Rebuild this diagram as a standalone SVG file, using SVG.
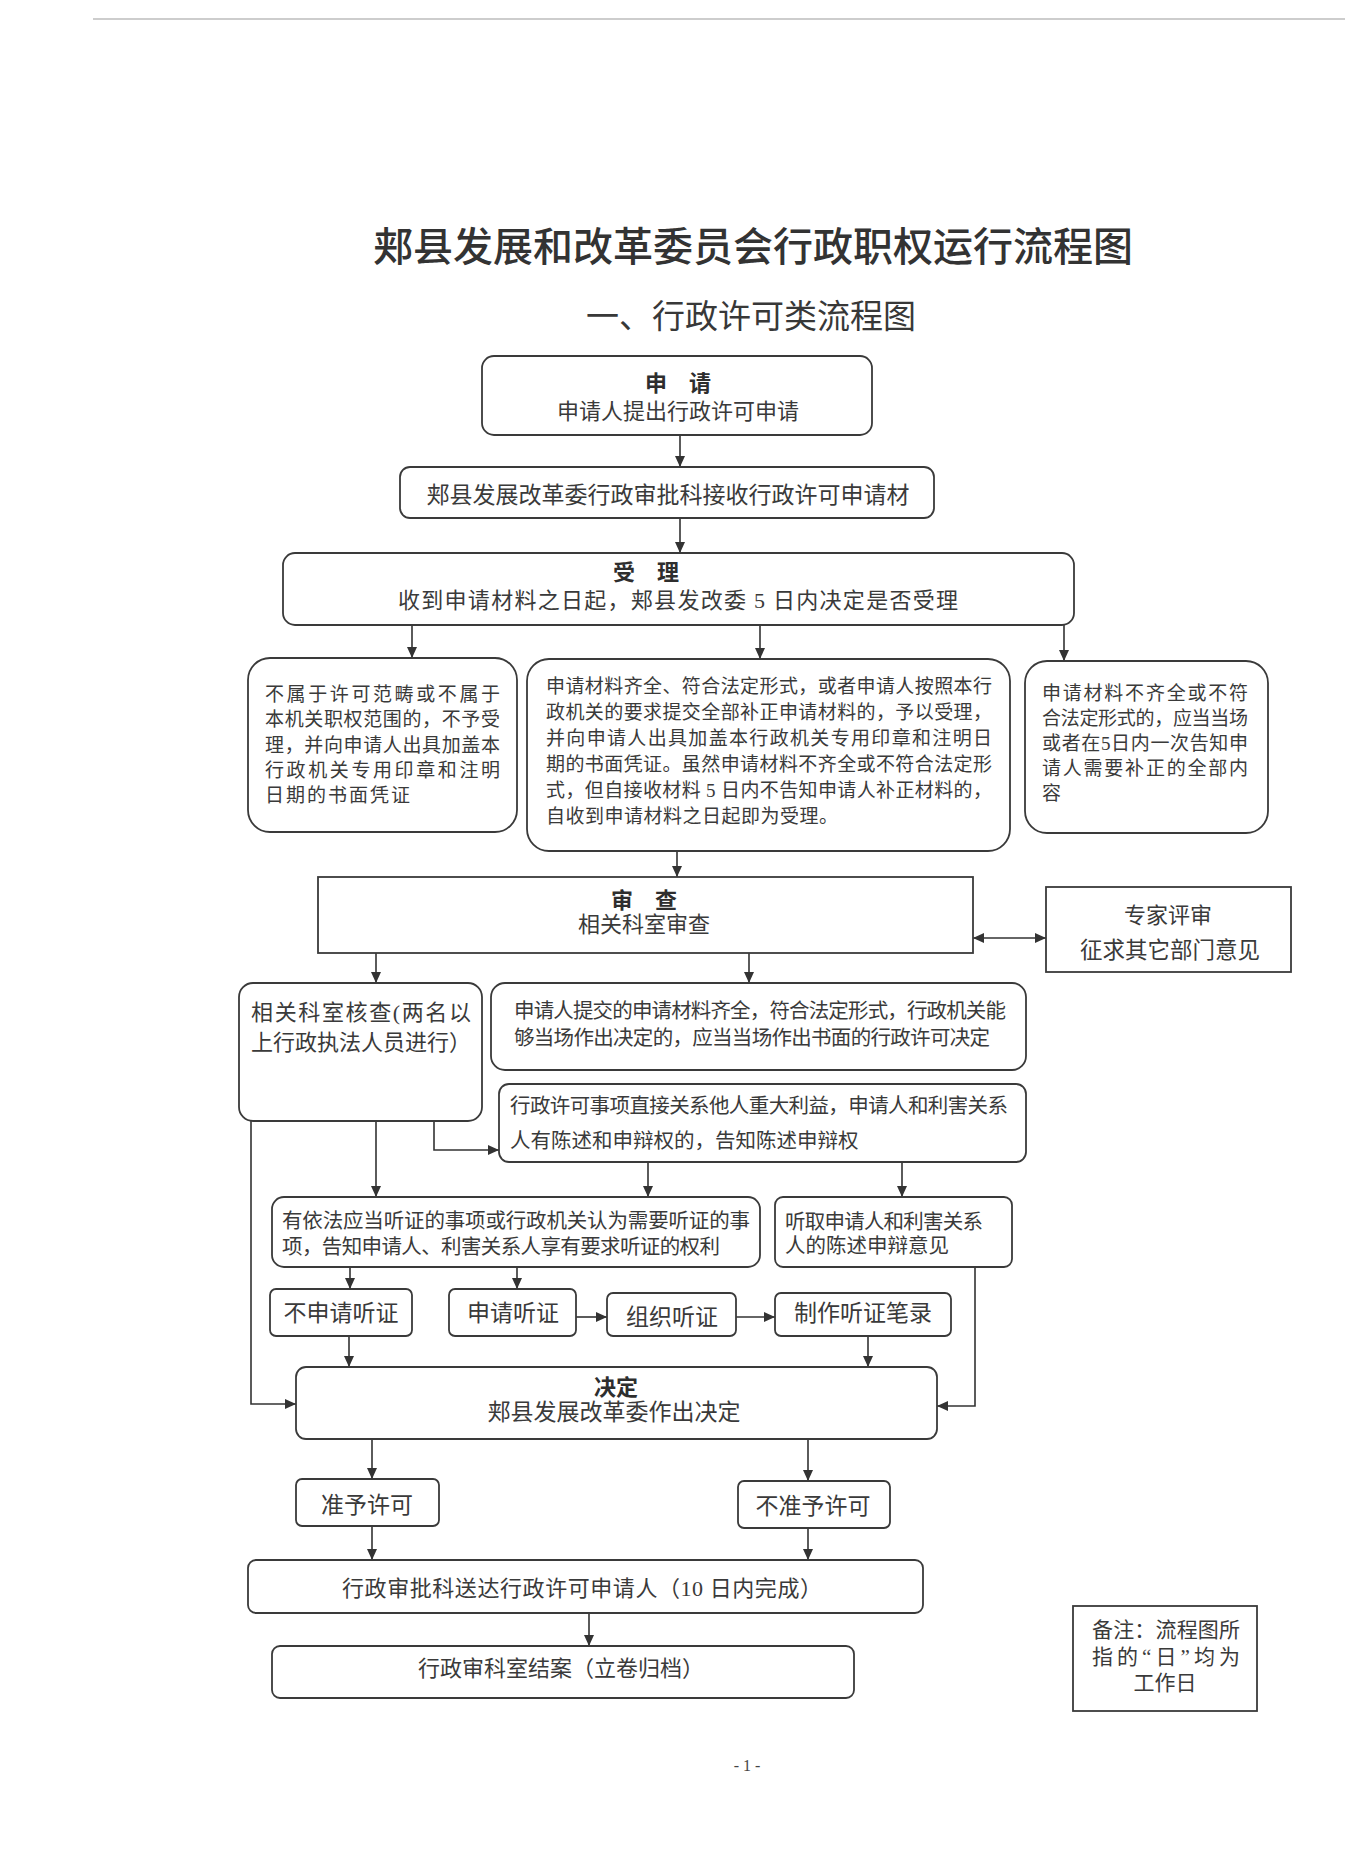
<svg xmlns="http://www.w3.org/2000/svg" width="1361" height="1872" viewBox="0 0 1361 1872">
<defs>
<style>
.box{fill:#fff;stroke:#3a3a3a;stroke-width:1.8}
.t{font-family:"Liberation Serif","Noto Sans CJK SC",serif;fill:#3a3a3a}
.h{font-family:"Noto Sans CJK SC",sans-serif;fill:#2e2e2e;font-weight:bold}
.c{stroke:#333;stroke-width:1.6;fill:none}
.s19{font-size:19px}
.s20{font-size:20.5px}
.s22{font-size:22px}
.s23{font-size:23px}
.m{text-anchor:middle}
</style>
<marker id="ah" markerUnits="userSpaceOnUse" markerWidth="12" markerHeight="10" refX="11" refY="5" orient="auto-start-reverse">
<path d="M0,0 L11,5 L0,10 z" fill="#333"/>
</marker>
</defs>
<rect width="1361" height="1872" fill="#fff"/>
<line x1="93" y1="19" x2="1345" y2="19" stroke="#bdbdbd" stroke-width="1.5"/>
<text x="753" y="261" class="m" font-family="Noto Sans CJK SC,sans-serif" font-size="40" font-weight="500" fill="#333">郏县发展和改革委员会行政职权运行流程图</text>
<text x="751" y="328" class="m" font-family="Noto Sans CJK SC,sans-serif" font-size="33" fill="#383838">一、行政许可类流程图</text>

<g id="connectors">
<line class="c" x1="680" y1="435" x2="680" y2="467" marker-end="url(#ah)"/>
<line class="c" x1="680" y1="518" x2="680" y2="553" marker-end="url(#ah)"/>
<line class="c" x1="412" y1="625" x2="412" y2="658" marker-end="url(#ah)"/>
<line class="c" x1="760" y1="625" x2="760" y2="659" marker-end="url(#ah)"/>
<line class="c" x1="1064" y1="625" x2="1064" y2="661" marker-end="url(#ah)"/>
<line class="c" x1="677" y1="851" x2="677" y2="877" marker-end="url(#ah)"/>
<line class="c" x1="973" y1="938" x2="1046" y2="938" marker-start="url(#ah)" marker-end="url(#ah)"/>
<line class="c" x1="376" y1="953" x2="376" y2="983" marker-end="url(#ah)"/>
<line class="c" x1="749" y1="953" x2="749" y2="983" marker-end="url(#ah)"/>
<line class="c" x1="376" y1="1121" x2="376" y2="1197" marker-end="url(#ah)"/>
<polyline class="c" points="434,1121 434,1150 499,1150" marker-end="url(#ah)"/>
<polyline class="c" points="251,1121 251,1404 296,1404" marker-end="url(#ah)"/>
<line class="c" x1="648" y1="1162" x2="648" y2="1197" marker-end="url(#ah)"/>
<line class="c" x1="902" y1="1162" x2="902" y2="1197" marker-end="url(#ah)"/>
<line class="c" x1="350" y1="1267" x2="350" y2="1289" marker-end="url(#ah)"/>
<line class="c" x1="517" y1="1267" x2="517" y2="1289" marker-end="url(#ah)"/>
<line class="c" x1="576" y1="1317" x2="607" y2="1317" marker-end="url(#ah)"/>
<line class="c" x1="736" y1="1317" x2="775" y2="1317" marker-end="url(#ah)"/>
<line class="c" x1="349" y1="1336" x2="349" y2="1367" marker-end="url(#ah)"/>
<line class="c" x1="868" y1="1336" x2="868" y2="1367" marker-end="url(#ah)"/>
<polyline class="c" points="975,1267 975,1406 937,1406" marker-end="url(#ah)"/>
<line class="c" x1="372" y1="1439" x2="372" y2="1479" marker-end="url(#ah)"/>
<line class="c" x1="808" y1="1439" x2="808" y2="1481" marker-end="url(#ah)"/>
<line class="c" x1="372" y1="1526" x2="372" y2="1560" marker-end="url(#ah)"/>
<line class="c" x1="808" y1="1528" x2="808" y2="1560" marker-end="url(#ah)"/>
<line class="c" x1="589" y1="1613" x2="589" y2="1646" marker-end="url(#ah)"/>
</g>

<g id="n-apply">
<rect class="box" x="482" y="356" width="390" height="79" rx="12"/>
<text x="678" y="391" class="h s22 m">申　请</text>
<text x="678" y="419" class="t s22 m">申请人提出行政许可申请</text>
</g>
<g id="n-receive">
<rect class="box" x="400" y="467" width="534" height="51" rx="10"/>
<text x="668" y="503" class="t s23 m">郏县发展改革委行政审批科接收行政许可申请材</text>
</g>
<g id="n-accept">
<rect class="box" x="283" y="553" width="791" height="72" rx="12"/>
<text x="646" y="580" class="h s22 m">受　理</text>
<text x="398" y="608" class="t s22" textLength="560" lengthAdjust="spacing">收到申请材料之日起，郏县发改委 5 日内决定是否受理</text>
</g>
<g id="n-reject">
<rect class="box" x="248" y="658" width="269" height="174" rx="22"/>
<text class="t s19"><tspan x="265" y="701" textLength="235" lengthAdjust="spacing">不属于许可范畴或不属于</tspan><tspan x="265" y="726" textLength="235" lengthAdjust="spacing">本机关职权范围的，不予受</tspan><tspan x="265" y="752" textLength="235" lengthAdjust="spacing">理，并向申请人出具加盖本</tspan><tspan x="265" y="777" textLength="235" lengthAdjust="spacing">行政机关专用印章和注明</tspan><tspan x="265" y="802" letter-spacing="2">日期的书面凭证</tspan></text>
</g>
<g id="n-accepted">
<rect class="box" x="527" y="659" width="483" height="192" rx="22"/>
<text class="t s19"><tspan x="546" y="693" textLength="446" lengthAdjust="spacing">申请材料齐全、符合法定形式，或者申请人按照本行</tspan><tspan x="546" y="719" textLength="446" lengthAdjust="spacing">政机关的要求提交全部补正申请材料的，予以受理，</tspan><tspan x="546" y="745" textLength="446" lengthAdjust="spacing">并向申请人出具加盖本行政机关专用印章和注明日</tspan><tspan x="546" y="771" textLength="446" lengthAdjust="spacing">期的书面凭证。虽然申请材料不齐全或不符合法定形</tspan><tspan x="546" y="797" textLength="446" lengthAdjust="spacing">式，但自接收材料 5 日内不告知申请人补正材料的，</tspan><tspan x="546" y="823" letter-spacing="0.5">自收到申请材料之日起即为受理。</tspan></text>
</g>
<g id="n-incomplete">
<rect class="box" x="1025" y="661" width="243" height="172" rx="22"/>
<text class="t s19"><tspan x="1042" y="700" textLength="206" lengthAdjust="spacing">申请材料不齐全或不符</tspan><tspan x="1042" y="725" textLength="206" lengthAdjust="spacing">合法定形式的，应当当场</tspan><tspan x="1042" y="750" textLength="206" lengthAdjust="spacing">或者在5日内一次告知申</tspan><tspan x="1042" y="775" textLength="206" lengthAdjust="spacing">请人需要补正的全部内</tspan><tspan x="1042" y="800">容</tspan></text>
</g>
<g id="n-review">
<rect class="box" x="318" y="877" width="655" height="76"/>
<text x="644" y="908" class="h s22 m">审　查</text>
<text x="644" y="932" class="t s22 m">相关科室审查</text>
</g>
<g id="n-expert">
<rect class="box" x="1046" y="887" width="245" height="85"/>
<text x="1168" y="923" class="t s22 m">专家评审</text>
<text x="1170" y="958" class="t m" font-size="22.5">征求其它部门意见</text>
</g>
<g id="n-check">
<rect class="box" x="239" y="983" width="243" height="138" rx="14"/>
<text class="t s22"><tspan x="251" y="1020" textLength="220" lengthAdjust="spacing">相关科室核查(两名以</tspan><tspan x="251" y="1050" textLength="220" lengthAdjust="spacing">上行政执法人员进行）</tspan></text>
</g>
<g id="n-onsite">
<rect class="box" x="491" y="983" width="535" height="87" rx="14"/>
<text class="t s20"><tspan x="514" y="1018" textLength="492" lengthAdjust="spacing">申请人提交的申请材料齐全，符合法定形式，行政机关能</tspan><tspan x="514" y="1045" textLength="476" lengthAdjust="spacing">够当场作出决定的，应当当场作出书面的行政许可决定</tspan></text>
</g>
<g id="n-interest">
<rect class="box" x="499" y="1084" width="527" height="78" rx="10"/>
<text class="t s20"><tspan x="510" y="1113" textLength="498" lengthAdjust="spacing">行政许可事项直接关系他人重大利益，申请人和利害关系</tspan><tspan x="510" y="1148">人有陈述和申辩权的，告知陈述申辩权</tspan></text>
</g>
<g id="n-hearing-notice">
<rect class="box" x="272" y="1197" width="488" height="70" rx="12"/>
<text class="t s20"><tspan x="282" y="1228" textLength="468" lengthAdjust="spacing">有依法应当听证的事项或行政机关认为需要听证的事</tspan><tspan x="282" y="1254" textLength="438" lengthAdjust="spacing">项，告知申请人、利害关系人享有要求听证的权利</tspan></text>
</g>
<g id="n-listen">
<rect class="box" x="775" y="1197" width="237" height="70" rx="8"/>
<text class="t s20"><tspan x="785" y="1229" textLength="198" lengthAdjust="spacing">听取申请人和利害关系</tspan><tspan x="785" y="1253">人的陈述申辩意见</tspan></text>
</g>
<g id="n-no-hearing">
<rect class="box" x="270" y="1289" width="142" height="47" rx="6"/>
<text x="341" y="1321" class="t s23 m">不申请听证</text>
</g>
<g id="n-req-hearing">
<rect class="box" x="449" y="1289" width="127" height="47" rx="6"/>
<text x="513" y="1321" class="t s23 m">申请听证</text>
</g>
<g id="n-org-hearing">
<rect class="box" x="607" y="1293" width="129" height="43" rx="6"/>
<text x="672" y="1325" class="t s23 m">组织听证</text>
</g>
<g id="n-record">
<rect class="box" x="775" y="1293" width="176" height="43" rx="6"/>
<text x="863" y="1321" class="t s23 m">制作听证笔录</text>
</g>
<g id="n-decide">
<rect class="box" x="296" y="1367" width="641" height="72" rx="10"/>
<text x="616" y="1395" class="h s22 m">决定</text>
<text x="614" y="1420" class="t s23 m">郏县发展改革委作出决定</text>
</g>
<g id="n-grant">
<rect class="box" x="296" y="1479" width="143" height="47" rx="6"/>
<text x="367" y="1513" class="t s23 m">准予许可</text>
</g>
<g id="n-deny">
<rect class="box" x="738" y="1481" width="152" height="47" rx="6"/>
<text x="813" y="1514" class="t s23 m">不准予许可</text>
</g>
<g id="n-deliver">
<rect class="box" x="248" y="1560" width="675" height="53" rx="8"/>
<text x="342" y="1596" class="t s22" textLength="480" lengthAdjust="spacing">行政审批科送达行政许可申请人（10 日内完成）</text>
</g>
<g id="n-archive">
<rect class="box" x="272" y="1646" width="582" height="52" rx="8"/>
<text x="561" y="1676" class="t s22 m">行政审科室结案（立卷归档）</text>
</g>
<g id="n-note">
<rect class="box" x="1073" y="1606" width="184" height="105"/>
<text class="t" font-size="21"><tspan x="1092" y="1637" textLength="148" lengthAdjust="spacing">备注：流程图所</tspan><tspan x="1092" y="1664" textLength="148" lengthAdjust="spacing">指的“日”均为</tspan><tspan x="1165" y="1690" text-anchor="middle">工作日</tspan></text>
</g>
<text x="747" y="1771" class="m" font-family="Liberation Serif,serif" font-size="16" fill="#444">- 1 -</text>
</svg>
